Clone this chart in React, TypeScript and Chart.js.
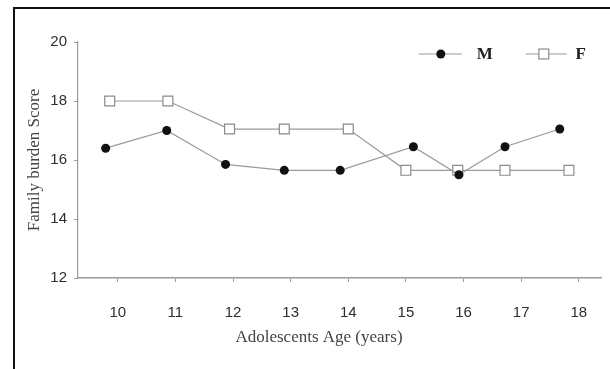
import React, { useEffect, useRef } from "react";
import { Chart, registerables } from "chart.js";

Chart.register(...registerables);

// Age categories shown on the x axis
const ages = [10, 11, 12, 13, 14, 15, 16, 17, 18];

// Plotted age positions (points are slightly staggered around each age)
const maleAgePos = [9.79, 10.85, 11.87, 12.89, 13.86, 15.13, 15.92, 16.72, 17.67];
const femaleAgePos = [9.86, 10.87, 11.94, 12.89, 14.0, 15.0, 15.9, 16.72, 17.83];

// Mean family burden scores
const maleScores = [16.4, 17.0, 15.85, 15.65, 15.65, 16.45, 15.5, 16.45, 17.05];
const femaleScores = [18.0, 18.0, 17.05, 17.05, 17.05, 15.65, 15.65, 15.65, 15.65];

const yTicks = [12, 14, 16, 18, 20];

const xTitle = "Adolescents Age (years)";

const lineGray = "#9a9a9a";
const textGray = "#2e2e2e";

// Legend with a short line through each marker, plus the x-axis caption
const lineLegend = {
  id: "lineLegend",
  afterDraw(chart: any) {
    const { ctx, chartArea } = chart;
    const items = [
      { ds: 0, lineX0: chartArea.right - 183, lineX1: chartArea.right - 140, markX: chartArea.right - 161, textX: chartArea.right - 117 },
      { ds: 1, lineX0: chartArea.right - 76, lineX1: chartArea.right - 35, markX: chartArea.right - 58, textX: chartArea.right - 21 },
    ];
    const y = chartArea.top + 12;
    ctx.save();
    items.forEach((it) => {
      const d = chart.data.datasets[it.ds];
      ctx.strokeStyle = d.borderColor;
      ctx.lineWidth = 1.2;
      ctx.beginPath();
      ctx.moveTo(it.lineX0, y);
      ctx.lineTo(it.lineX1, y);
      ctx.stroke();
      ctx.fillStyle = d.pointBackgroundColor;
      ctx.strokeStyle = d.pointBorderColor;
      ctx.lineWidth = 1.2;
      if (d.pointStyle === "rect") {
        const s = d.pointRadius * Math.SQRT1_2;
        ctx.fillRect(it.markX - s, y - s, 2 * s, 2 * s);
        ctx.strokeRect(it.markX - s, y - s, 2 * s, 2 * s);
      } else {
        ctx.beginPath();
        ctx.arc(it.markX, y, d.pointRadius, 0, Math.PI * 2);
        ctx.fill();
      }
      ctx.fillStyle = "#222";
      ctx.font = "bold 17px 'Liberation Serif', serif";
      ctx.textAlign = "center";
      ctx.textBaseline = "middle";
      ctx.fillText(d.label, it.textX, y + 1);
    });

    // x-axis caption, set a little left of the axis centre
    ctx.fillStyle = "#444";
    ctx.font = "17px 'Liberation Serif', serif";
    ctx.textAlign = "center";
    ctx.textBaseline = "middle";
    ctx.fillText(xTitle, chartArea.left + 241, chartArea.bottom + 60);
    ctx.restore();
  },
};

export default function App() {
  const canvasRef = useRef<HTMLCanvasElement | null>(null);

  useEffect(() => {
    const canvas = canvasRef.current;
    if (!canvas) return;
    const chart = new Chart(canvas, {
      type: "line",
      data: {
        datasets: [
          {
            label: "M",
            data: maleAgePos.map((x, i) => ({ x, y: maleScores[i] })),
            borderColor: lineGray,
            borderWidth: 1.2,
            pointStyle: "circle",
            pointRadius: 4.5,
            pointBackgroundColor: "#111",
            pointBorderColor: "#111",
            pointBorderWidth: 0,
            tension: 0,
          },
          {
            label: "F",
            data: femaleAgePos.map((x, i) => ({ x, y: femaleScores[i] })),
            borderColor: lineGray,
            borderWidth: 1.2,
            pointStyle: "rect",
            pointRadius: 7,
            pointBackgroundColor: "#fff",
            pointBorderColor: "#8a8a8a",
            pointBorderWidth: 1.2,
            tension: 0,
          },
        ],
      },
      plugins: [lineLegend],
      options: {
        animation: false,
        responsive: false,
        layout: { padding: { left: 24, top: 42, right: 7, bottom: 21 } },
        plugins: {
          legend: { display: false },
          tooltip: { enabled: false },
        },
        scales: {
          x: {
            type: "linear",
            min: 9.31,
            max: 18.4,
            afterBuildTicks: (s: any) => {
              s.ticks = ages.map((v) => ({ value: v }));
            },
            afterFit: (s: any) => {
              s.height = 70;
            },
            grid: {
              display: true,
              drawOnChartArea: false,
              drawTicks: true,
              tickLength: 4,
              color: lineGray,
            },
            border: { display: true, color: lineGray, width: 1.5 },
            ticks: {
              padding: 22,
              color: textGray,
              font: { family: "'Liberation Sans', Arial, sans-serif", size: 15 },
              callback: (v: any) => String(v),
            },
            title: { display: false },
          },
          y: {
            min: 12,
            max: 20,
            afterBuildTicks: (s: any) => {
              s.ticks = yTicks.map((v) => ({ value: v }));
            },
            afterFit: (s: any) => {
              s.width = 54;
            },
            grid: {
              display: true,
              drawOnChartArea: false,
              drawTicks: true,
              tickLength: 4,
              color: lineGray,
            },
            border: { display: true, color: lineGray, width: 1.2 },
            ticks: {
              padding: 7,
              color: textGray,
              font: { family: "'Liberation Sans', Arial, sans-serif", size: 15 },
            },
            title: {
              display: true,
              text: "Family burden Score",
              color: "#444",
              padding: 0,
              font: { family: "'Liberation Serif', serif", size: 17 },
            },
          },
        },
      },
    });
    return () => chart.destroy();
  }, []);

  return (
    <div
      style={{
        position: "fixed",
        left: 0,
        top: 0,
        width: 610,
        height: 369,
        background: "#fff",
        overflow: "hidden",
      }}
    >
      <canvas
        ref={canvasRef}
        width={610}
        height={369}
        style={{ position: "absolute", left: 0, top: 0, width: 610, height: 369 }}
      />
      <div
        style={{
          position: "absolute",
          left: 13,
          top: 7,
          width: 700,
          height: 400,
          borderLeft: "2px solid #111",
          borderTop: "2px solid #111",
          pointerEvents: "none",
        }}
      />
    </div>
  );
}
